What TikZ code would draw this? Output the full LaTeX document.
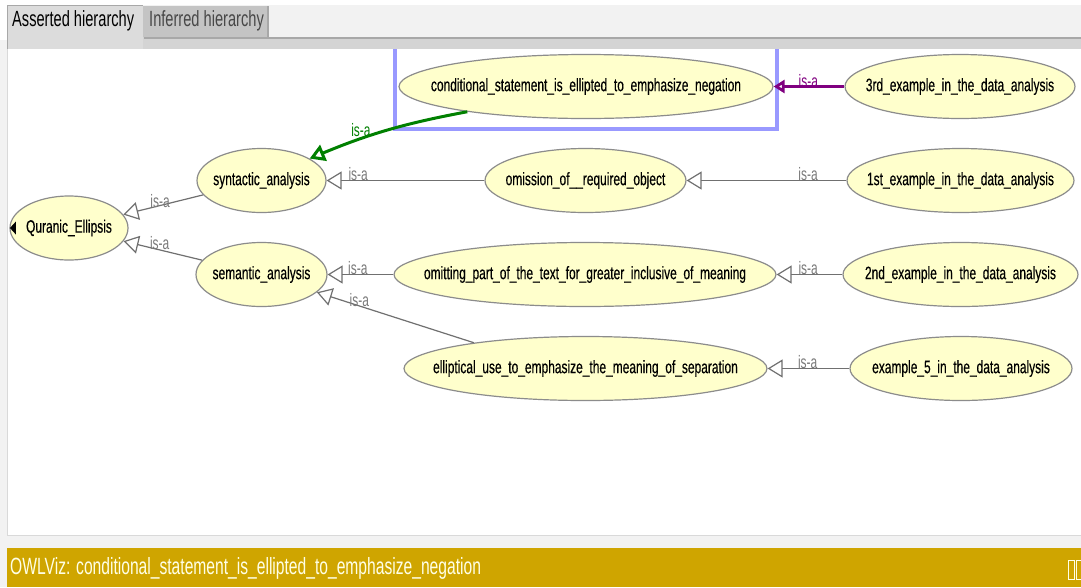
\documentclass[tikz,border=0pt]{standalone}
\usepackage{fontspec}
\setmainfont{Liberation Sans}[FakeStretch=0.665]
\newfontfamily\clsfont{Liberation Sans}[FakeStretch=0.665, FakeBold=0.35]
\usetikzlibrary{shapes.geometric,arrows.meta}

\definecolor{nodefill}{HTML}{FFFFCC}
\definecolor{nodeline}{HTML}{8C8C8C}
\definecolor{edgegray}{HTML}{707070}
\definecolor{labelgray}{HTML}{7A7A7A}
\definecolor{isagreen}{HTML}{008000}
\definecolor{isapurple}{HTML}{800080}
\definecolor{selblue}{HTML}{9999FF}
\definecolor{statusgold}{HTML}{CFA500}
\definecolor{statustext}{HTML}{FFFFE6}
\definecolor{panelgray}{HTML}{F2F2F2}
\definecolor{bandgray}{HTML}{D4D4D4}
\definecolor{seplinegray}{HTML}{A8A8A8}
\definecolor{activetab}{HTML}{DCDCDC}
\definecolor{idletab}{HTML}{C4C4C4}
\definecolor{idletext}{HTML}{484848}

% class names are centred in a zero-width box so that the ellipse
% keeps exactly the size given by minimum width / minimum height
\newcommand{\clsname}[1]{\makebox[0pt][c]{#1}}

\tikzset{
  cls/.style={ellipse, draw=nodeline, line width=1.2pt, fill=nodefill,
    inner sep=0pt, minimum height=64pt, font=\clsfont\fontsize{18}{20}\selectfont},
  isa/.style={draw=edgegray, line width=1.2pt,
    -{Triangle[open,length=15pt,width=18pt]}},
  isalbl/.style={anchor=south, inner sep=0pt, yshift=-1pt, text=labelgray,
    font=\fontsize{18}{20}\selectfont},
  tabtext/.style={anchor=west, inner sep=0pt, font=\fontsize{22}{24}\selectfont},
}

\begin{document}
\begin{tikzpicture}[x=1pt,y=-1pt]
\useasboundingbox (0,0) rectangle (1081,587);

% window chrome
\fill[panelgray] (0,0) rectangle (1081,587);
\fill[white] (0,0) rectangle (1081,5);
\fill[white] (0,5) rectangle (7,40);
\fill[bandgray] (7,37) rectangle (1081,49);
\fill[seplinegray] (268,36.5) rectangle (1081,39);
\fill[activetab] (8,5) rectangle (143,49);
\draw[seplinegray, line width=0.8pt] (7.5,49) -- (7.5,5.5) -- (143,5.5);
\fill[idletab] (143,6) rectangle (268,37);
\draw[seplinegray, line width=1.5pt] (143.5,38) -- (268,38) -- (268,6);
\node[tabtext] (tabA) at (12,21) {Asserted hierarchy};
\node[tabtext, text=idletext] (tabI) at (149,21) {Inferred hierarchy};

% drawing canvas
\fill[white] (8,49) rectangle (1081,535);
\draw[black!15, line width=1pt] (7.5,49) -- (7.5,535.5) -- (1081,535.5);

% status bar
\fill[statusgold] (7,548) rectangle (1081,587);
\node[anchor=west, inner sep=0pt, text=statustext,
  font=\fontsize{23.5}{25}\selectfont] (status) at (10,568)
  {OWLViz: conditional\_statement\_is\_ellipted\_to\_emphasize\_negation};
\draw[statustext, line width=1pt] (1068.5,560.5) rectangle (1074,579.5)
  (1076,560.5) rectangle (1082,579.5);

% selection frame round the chosen class
\draw[selblue, line width=4pt] (395,49) -- (395,128.5) -- (776.5,128.5) -- (776.5,49);

% classes
\node[cls, minimum width=118pt] (qe)   at (69,228)      {\clsname{Quranic\_Ellipsis}};
\node[cls, minimum width=129pt] (syn)  at (261.5,180.5) {\clsname{syntactic\_analysis}};
\node[cls, minimum width=131pt] (sem)  at (261.5,274.5) {\clsname{semantic\_analysis}};
\node[cls, minimum width=374pt] (cond) at (586,86.5)    {\clsname{conditional\_statement\_is\_ellipted\_to\_emphasize\_negation}};
\node[cls, minimum width=201pt] (omi)  at (585.5,180.5) {\clsname{omission\_of\_\_required\_object}};
\node[cls, minimum width=382pt] (omt)  at (585,274.5)   {\clsname{omitting\_part\_of\_the\_text\_for\_greater\_inclusive\_of\_meaning}};
\node[cls, minimum width=363pt] (ell)  at (585.5,368.5) {\clsname{elliptical\_use\_to\_emphasize\_the\_meaning\_of\_separation}};
\node[cls, minimum width=230pt] (ex3)  at (960,86.5)    {\clsname{3rd\_example\_in\_the\_data\_analysis}};
\node[cls, minimum width=227pt] (ex1)  at (960.5,180.5) {\clsname{1st\_example\_in\_the\_data\_analysis}};
\node[cls, minimum width=235pt] (ex2)  at (960.5,274.5) {\clsname{2nd\_example\_in\_the\_data\_analysis}};
\node[cls, minimum width=222pt] (ex5)  at (961,368.5)   {\clsname{example\_5\_in\_the\_data\_analysis}};

% marker on the root class
\fill[black] (qe.west) ++(0.5,0) -- ++(6,-6.5) -- ++(0,13) -- cycle;

% is-a links
\draw[isa] (syn) -- node[isalbl, pos=0.54, yshift=-2pt] (l1) {is-a} (qe);
\draw[isa] (sem) -- node[isalbl, pos=0.54, yshift=1pt] (l2) {is-a} (qe);
\draw[isa] (omi) -- node[isalbl, pos=0.80] (l3) {is-a} (syn);
\draw[isa] (ex1) -- node[isalbl, pos=0.24] (l4) {is-a} (omi);
\draw[isa] (omt) -- node[isalbl, pos=0.54] (l5) {is-a} (sem);
\draw[isa] (ex2) -- node[isalbl, pos=0.52] (l6) {is-a} (omt);
\draw[isa] (ell.167) -- node[isalbl, pos=0.73] (l7) {is-a} (sem);
\draw[isa] (ex5) -- node[isalbl, pos=0.51] (l8) {is-a} (ell);

% highlighted links of the selected class
\draw[isa, draw=isagreen, line width=3pt,
  -{Triangle[open,length=15pt,width=17pt]}]
  (cond.192) to[bend right=6] node[isalbl, pos=0.68, yshift=2pt, text=isagreen] (l9) {is-a} (syn);
\draw[isa, draw=isapurple, line width=3pt,
  -{Triangle[open,length=11pt,width=13pt]}]
  (ex3) -- node[isalbl, pos=0.51, yshift=-2pt, text=isapurple] (l10) {is-a} (cond);
\end{tikzpicture}
\end{document}
